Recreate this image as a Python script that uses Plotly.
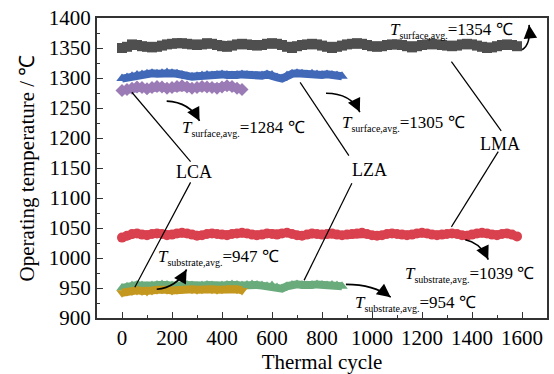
import plotly.graph_objects as go

# ---------------- data ----------------
cycle_step = 20
lma_surface = [1350,1352,1356,1355,1353,1352,1351,1352,1354,1356,1357,1358,1358,1357,1356,1355,1356,1358,1357,1355,
               1353,1352,1354,1356,1357,1356,1355,1354,1355,1357,1358,1357,1355,1352,1350,1353,1355,1356,1357,1356,
               1354,1352,1350,1352,1354,1356,1357,1358,1357,1355,1353,1352,1353,1355,1356,1356,1355,1353,1351,1353,
               1355,1356,1357,1356,1355,1354,1353,1354,1356,1357,1356,1354,1352,1350,1351,1353,1355,1356,1355,1353]
lza_surface = [1299,1301,1303,1305,1306,1307,1308,1307,1308,1309,1308,1307,1305,1303,1302,1303,1304,1305,1304,1305,
               1306,1305,1304,1305,1306,1305,1304,1303,1304,1306,1305,1301,1299,1304,1307,1308,1307,1306,1307,1306,
               1305,1306,1305,1304,1303]
lca_surface = [1279,1281,1283,1285,1284,1282,1284,1286,1285,1283,1284,1286,1287,1285,1283,1284,1286,1285,1284,1283,
               1285,1287,1286,1283,1281]
lma_substrate = [1034,1037,1040,1041,1039,1038,1040,1041,1040,1038,1039,1041,1042,1041,1039,1037,1038,1040,1041,1040,
                 1039,1038,1040,1041,1042,1041,1039,1038,1039,1041,1040,1039,1041,1042,1040,1038,1037,1039,1041,1040,
                 1039,1040,1041,1039,1038,1039,1040,1041,1042,1040,1038,1037,1038,1040,1041,1040,1039,1038,1039,1041,
                 1042,1041,1039,1038,1039,1040,1041,1040,1038,1037,1039,1041,1042,1041,1039,1038,1040,1041,1039,1036]
lza_substrate = [950,952,954,955,954,953,954,955,956,955,954,953,954,955,954,953,954,955,954,953,
                 954,955,956,955,954,955,956,955,954,953,954,951,949,953,955,956,955,954,955,956,
                 955,954,955,954,953]
lca_substrate = [942,944,945,946,945,944,946,947,948,947,946,947,948,949,948,947,948,949,948,947,
                 948,949,950,948,946]

x_ticks = [0, 200, 400, 600, 800, 1000, 1200, 1400, 1600]
y_ticks = [900, 950, 1000, 1050, 1100, 1150, 1200, 1250, 1300, 1350, 1400]

FONT = "Liberation Serif"
W, H = 554, 374
L, R, T, B = 97, 549, 18, 321
XR = (-100, 1700)
YR = (900, 1400)


def px2x(px):
    return XR[0] + (px - L) / (R - L) * (XR[1] - XR[0])


def px2y(py):
    return YR[0] + (B - py) / (B - T) * (YR[1] - YR[0])


def cycles(vals):
    return [i * cycle_step for i in range(len(vals))]


series = [
    (lma_surface, "#4f4f4f", "square"),
    (lza_surface, "#4169b8", "triangle-up"),
    (lca_surface, "#9b7bb6", "diamond"),
    (lma_substrate, "#d9414f", "circle"),
    (lza_substrate, "#6aab7c", "triangle-up"),
    (lca_substrate, "#c4981f", "triangle-down"),
]

fig = go.Figure()
for vals, col, sym in series:
    fig.add_trace(go.Scatter(
        x=cycles(vals), y=vals, mode="lines+markers",
        line=dict(color=col, width=8),
        marker=dict(color=col, symbol=sym, size=10, line=dict(width=0)),
        showlegend=False, hoverinfo="skip"))

annotations = []
shapes = []

# leader lines (pixel positions)
leaders = [((132, 93), (191, 163)), ((191, 184), (135, 290)),
           ((301, 83), (350, 157)), ((353, 185), (305, 283)),
           ((453, 62), (503, 132)), ((500, 153), (453, 229))]
for (a, b) in leaders:
    shapes.append(dict(type="line", xref="x", yref="y",
                       x0=px2x(a[0]), y0=px2y(a[1]), x1=px2x(b[0]), y1=px2y(b[1]),
                       line=dict(color="black", width=1.2)))

# labels
for txt, (px, py) in [("LCA", (194, 174)), ("LZA", (371, 172)), ("LMA", (502, 145))]:
    annotations.append(dict(x=px2x(px), y=px2y(py), xref="x", yref="y", text=txt,
                            showarrow=False, xanchor="center", yanchor="middle",
                            font=dict(family=FONT, size=18, color="black")))

# value texts
vt = [("surface", "1354", (389, 31)), ("surface", "1284", (180, 130)),
      ("surface", "1305", (341, 125)), ("substrate", "947", (156, 260)),
      ("substrate", "1039", (404, 277)), ("substrate", "954", (354, 306))]
for kind, val, (px, py) in vt:
    annotations.append(dict(
        x=px2x(px), y=px2y(py), xref="x", yref="y",
        text=f"<i>T</i><sub><span style='font-size:10px'>{kind},avg.</span></sub>={val} ℃",
        showarrow=False, xanchor="left", yanchor="middle",
        font=dict(family=FONT, size=17, color="black")))

# curved arrows: start, control, end
arrows = [((167, 102), (190, 103), (200, 122)),
          ((327, 94), (352, 94), (361, 113)),
          ((524, 50), (533, 45), (531, 25)),
          ((467, 242), (482, 245), (490, 262)),
          ((347, 287), (375, 287), (392, 300)),
          ((157, 292), (177, 290), (187, 272))]
for s, c, e in arrows:
    path = (f"M {px2x(s[0])},{px2y(s[1])} Q {px2x(c[0])},{px2y(c[1])} "
            f"{px2x(e[0])},{px2y(e[1])}")
    shapes.append(dict(type="path", xref="x", yref="y", path=path,
                       line=dict(color="black", width=1.6)))
    dx, dy = e[0] - c[0], e[1] - c[1]
    n = (dx * dx + dy * dy) ** 0.5
    annotations.append(dict(x=px2x(e[0]), y=px2y(e[1]), xref="x", yref="y",
                            ax=-dx / n * 6, ay=-dy / n * 6, text="",
                            showarrow=True, arrowhead=2, arrowsize=1.8,
                            arrowwidth=1.5, arrowcolor="black"))

fig.update_layout(
    width=W, height=H,
    margin=dict(l=L, r=W - R, t=T, b=H - B, pad=0),
    paper_bgcolor="white", plot_bgcolor="white",
    font=dict(family=FONT, size=21, color="black"),
    shapes=shapes, annotations=annotations,
    xaxis=dict(range=list(XR), tickvals=x_ticks, ticks="inside", ticklen=6, tickwidth=1.2,
               tickcolor="#333", showline=True, linewidth=2, linecolor="#333", mirror=True,
               showgrid=False, zeroline=False,
               minor=dict(dtick=100, tick0=0, ticks="inside", ticklen=3, tickwidth=1.2, tickcolor="#333"),
               title=dict(text="Thermal cycle", font=dict(family=FONT, size=21), standoff=4),
               tickfont=dict(family=FONT, size=21)),
    yaxis=dict(range=list(YR), tickvals=y_ticks, ticks="inside", ticklen=6, tickwidth=1.2,
               tickcolor="#333", showline=True, linewidth=2, linecolor="#333", mirror=True,
               showgrid=False, zeroline=False,
               minor=dict(dtick=25, tick0=900, ticks="inside", ticklen=3, tickwidth=1.2, tickcolor="#333"),
               title=dict(text="Operating temperature / ℃", font=dict(family=FONT, size=21), standoff=8),
               tickfont=dict(family=FONT, size=21)),
)

fig.write_html("out.html")
